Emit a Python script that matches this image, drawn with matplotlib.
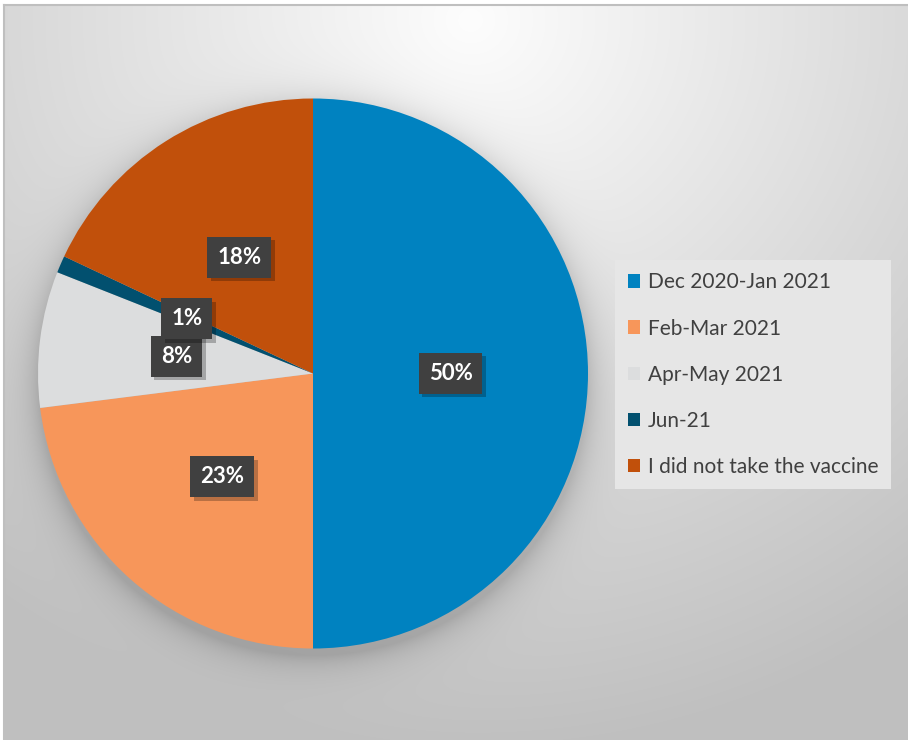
import numpy as np
import matplotlib
matplotlib.use('Agg')
import matplotlib.pyplot as plt
from matplotlib.patches import Patch
import matplotlib.patheffects as pe

plt.rcParams['font.family'] = ['Lato', 'DejaVu Sans']

categories = ['Dec 2020-Jan 2021', 'Feb-Mar 2021', 'Apr-May 2021', 'Jun-21',
              'I did not take the vaccine']
shares = [50, 23, 8, 1, 18]
colors = ['#0082c0', '#f7965a', '#dcddde', '#02506f', '#c1500b']

W, H = 908, 740
fig = plt.figure(figsize=(W / 100, H / 100), dpi=100)

# background: soft radial gradient plus a glow-like shadow round the pie
bg = fig.add_axes([0, 0, 1, 1])
bg.axis('off')
yy, xx = np.mgrid[0:H, 0:W]
dist = np.hypot(xx - 470, (yy - 20) / 0.95)
shade = np.clip(253 - 0.08 * dist, 192, 255)
cx, cy, r = 313, 380, 275
dp = np.clip(np.hypot(xx - cx, yy - cy) - r, 0, None)
shade = shade - 35 * np.exp(-dp / 16)
shade[:5, :] = 255
shade[:, :4] = 255
img = np.dstack([shade] * 3) / 255
bg.imshow(img, extent=(0, W, H, 0), interpolation='bilinear')
bg.plot([4, W], [5, 5], color='#bfbfbf', lw=1.5)
bg.plot([4, 4], [5, H], color='#bfbfbf', lw=1.5)
bg.set_xlim(0, W)
bg.set_ylim(H, 0)

# pie
ax = fig.add_axes([38 / W, (H - 373.5 - 275) / H, 550 / W, 550 / H])
wedges, texts, autotexts = ax.pie(
    shares, colors=colors, startangle=90, counterclock=False,
    autopct=lambda p: f'{p:.0f}%', pctdistance=0.5,
    wedgeprops=dict(linewidth=0))
ax.set_xlim(-1, 1)
ax.set_ylim(-1, 1)

for t in autotexts:
    t.set_color('white')
    t.set_fontweight('bold')
    t.set_fontsize(16)
    t.set_bbox(dict(boxstyle='square,pad=0.45', fc='#404040', ec='none', lw=0))
    t.get_bbox_patch().set_path_effects([
        pe.SimplePatchShadow(offset=(2.5, -2.5), shadow_rgbFace='black', alpha=0.25),
        pe.Normal()])

handles = [Patch(fc=c, ec='none') for c in colors]
leg = fig.legend(handles, categories, loc='upper left',
                 bbox_to_anchor=(615 / W, 1 - 260 / H), frameon=True,
                 fontsize=15, labelspacing=1.25, handlelength=0.62,
                 handleheight=0.62, handletextpad=0.35, borderpad=0.6,
                 borderaxespad=0, fancybox=False, facecolor='#e6e6e6',
                 edgecolor='none', framealpha=1, labelcolor='#404040')

fig.savefig('out.png', dpi=100)
